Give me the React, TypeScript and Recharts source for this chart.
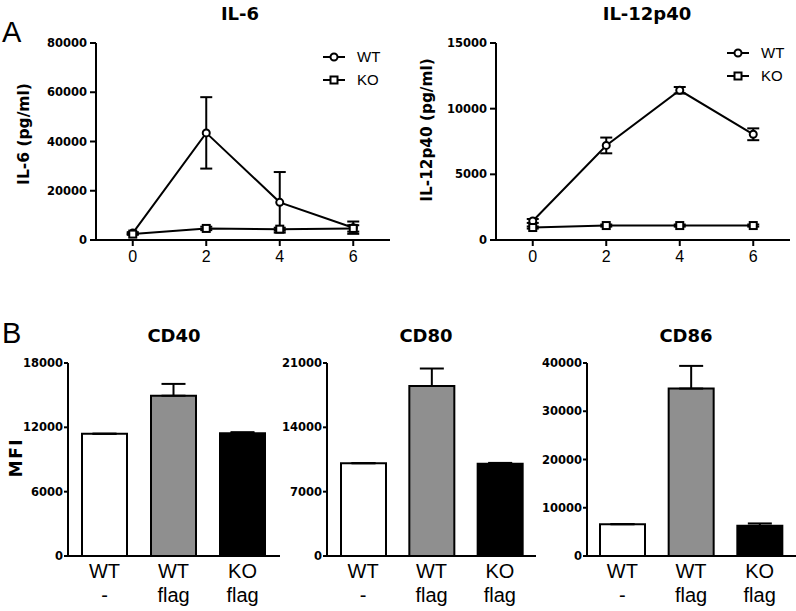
import React from "react";
import { Bar, BarChart, Cell, ErrorBar, Legend, Line, LineChart, XAxis, YAxis } from "recharts";

const BOLD = '"DejaVu Sans", Verdana, sans-serif';
const PLAIN = '"Liberation Sans", Arial, Helvetica, sans-serif';

// Panel A — cytokine secretion over time (h)
const hours = [0, 2, 4, 6];
const il6Wt = [2800, 43500, 15300, 5000];
const il6WtSd = [400, 14500, 12300, 2500];
const il6Ko = [2400, 4700, 4400, 4700];
const il6KoSd = [300, 700, 600, 1300];
const il6Ticks = [0, 20000, 40000, 60000, 80000];

const il12Wt = [1450, 7200, 11400, 8050];
const il12WtSd = [150, 600, 250, 450];
const il12Ko = [950, 1100, 1100, 1100];
const il12KoSd = [80, 80, 80, 80];
const il12Ticks = [0, 5000, 10000, 15000];

const hourTicks = [0, 2, 4, 6];
const seriesOrder = ["wt", "ko"];

// Panel B — surface markers (MFI), upper SD only
const genotypes = ["WT", "WT", "KO"];
const treatments = ["-", "flag", "flag"];
const barFills = ["#ffffff", "#8f8f8f", "#000000"];

const cd40Mfi = [11400, 14950, 11450];
const cd40Sd = [0, 1100, 100];
const cd40Ticks = [0, 6000, 12000, 18000];

const cd80Mfi = [10100, 18500, 10050];
const cd80Sd = [0, 1900, 80];
const cd80Ticks = [0, 7000, 14000, 21000];

const cd86Mfi = [6600, 34700, 6250];
const cd86Sd = [0, 4700, 500];
const cd86Ticks = [0, 10000, 20000, 30000, 40000];

const timeRows = (wt: number[], wtSd: number[], ko: number[], koSd: number[]) =>
  hours.map((h, i) => ({ h, wt: wt[i], wtSd: wtSd[i], ko: ko[i], koSd: koSd[i] }));

const barRows = (mfi: number[], sd: number[]) =>
  genotypes.map((g, i) => ({ label: `${g}|${treatments[i]}`, mfi: mfi[i], sd: [0, sd[i]] }));

const axisStroke = { stroke: "#000", strokeWidth: 2 };
const boldTick = { fill: "#000", fontSize: 11.5, fontWeight: "bold", fontFamily: BOLD };

function SquareDot(props: any) {
  const { cx, cy, index } = props;
  if (cx == null || cy == null) return null;
  return (
    <rect key={`sq-${index}`} x={cx - 3.5} y={cy - 3.5} width={7} height={7} fill="#fff" stroke="#000" strokeWidth={2} />
  );
}

// GraphPad-style key: short line with the marker, label to the right; WT always first.
function SeriesKey({ payload }: any) {
  const items = [...(payload || [])].sort(
    (a: any, b: any) => seriesOrder.indexOf(a.dataKey) - seriesOrder.indexOf(b.dataKey)
  );
  return (
    <div style={{ fontFamily: PLAIN, fontSize: 15, color: "#000", lineHeight: "23px" }}>
      {items.map((e: any) => (
        <div key={e.dataKey} style={{ display: "flex", alignItems: "center", height: 23 }}>
          <svg width={24} height={14} style={{ flex: "none" }}>
            <line x1={1} x2={23} y1={7} y2={7} stroke="#000" strokeWidth={2} />
            {e.dataKey === "ko" ? (
              <rect x={8.5} y={3.5} width={7} height={7} fill="#fff" stroke="#000" strokeWidth={2} />
            ) : (
              <circle cx={12} cy={7} r={3.5} fill="#fff" stroke="#000" strokeWidth={2} />
            )}
          </svg>
          <span style={{ marginLeft: 11 }}>{e.value}</span>
        </div>
      ))}
    </div>
  );
}

function TwoLineTick({ x, y, payload }: any) {
  const [top, bottom] = String(payload.value).split("|");
  return (
    <g>
      <text x={x} y={y + 22} textAnchor="middle" fontFamily={PLAIN} fontSize={20} fill="#000">
        {top}
      </text>
      <text x={x} y={y + 46} textAnchor="middle" fontFamily={PLAIN} fontSize={20} fill="#000">
        {bottom}
      </text>
    </g>
  );
}

function TimeCourse({
  data,
  ticks,
  left,
  width,
  legendLeft,
  legendTop,
}: {
  data: ReturnType<typeof timeRows>;
  ticks: number[];
  left: number;
  width: number;
  legendLeft: number;
  legendTop: number;
}) {
  return (
    <div style={{ position: "absolute", left, top: 0 }}>
      <LineChart width={width} height={290} data={data} margin={{ top: 43, right: width - 390, bottom: 10, left: 16 }}>
        <XAxis
          dataKey="h"
          type="number"
          domain={[-1, 7]}
          ticks={hourTicks}
          height={40}
          axisLine={axisStroke}
          tickLine={axisStroke}
          tickSize={6}
          tickMargin={5}
          tick={{ fill: "#000", fontSize: 16, fontFamily: PLAIN }}
        />
        <YAxis
          domain={[0, ticks[ticks.length - 1]]}
          ticks={ticks}
          width={80}
          axisLine={axisStroke}
          tickLine={axisStroke}
          tickSize={6}
          tickMargin={3}
          tick={boldTick}
        />
        <Legend
          layout="vertical"
          align="center"
          verticalAlign="middle"
          content={<SeriesKey />}
          wrapperStyle={{ left: legendLeft, top: legendTop, width: 70, height: 46, margin: 0, padding: 0 }}
        />
        <Line
          dataKey="wt"
          name="WT"
          type="linear"
          stroke="#000"
          strokeWidth={2}
          dot={{ r: 3.5, fill: "#fff", stroke: "#000", strokeWidth: 2 }}
          isAnimationActive={false}
        >
          <ErrorBar dataKey="wtSd" direction="y" width={6} stroke="#000" strokeWidth={2} />
        </Line>
        <Line
          dataKey="ko"
          name="KO"
          type="linear"
          stroke="#000"
          strokeWidth={2}
          dot={SquareDot}
          isAnimationActive={false}
        >
          <ErrorBar dataKey="koSd" direction="y" width={6} stroke="#000" strokeWidth={2} />
        </Line>
      </LineChart>
    </div>
  );
}

function MarkerBars({
  data,
  ticks,
  left,
  width,
  yWidth,
  marginLeft,
  marginRight,
  padding,
}: {
  data: ReturnType<typeof barRows>;
  ticks: number[];
  left: number;
  width: number;
  yWidth: number;
  marginLeft: number;
  marginRight: number;
  padding: { left: number; right: number };
}) {
  return (
    <div style={{ position: "absolute", left, top: 290 }}>
      <BarChart width={width} height={321} data={data} margin={{ top: 73, right: marginRight, bottom: 5, left: marginLeft }}>
        <XAxis
          dataKey="label"
          height={50}
          padding={padding}
          axisLine={axisStroke}
          tickLine={false}
          tickSize={0}
          tickMargin={0}
          interval={0}
          tick={<TwoLineTick />}
        />
        <YAxis
          domain={[0, ticks[ticks.length - 1]]}
          ticks={ticks}
          width={yWidth}
          axisLine={axisStroke}
          tickLine={axisStroke}
          tickSize={4}
          tickMargin={1}
          tick={boldTick}
        />
        <Bar dataKey="mfi" barSize={45} stroke="#000" strokeWidth={2} isAnimationActive={false}>
          {data.map((_, i) => (
            <Cell key={i} fill={barFills[i]} />
          ))}
          <ErrorBar dataKey="sd" direction="y" width={12} stroke="#000" strokeWidth={2} />
        </Bar>
      </BarChart>
    </div>
  );
}

export default function App() {
  const titleStyle = { fontFamily: BOLD, fontWeight: "bold" as const, fill: "#000" };
  return (
    <div style={{ position: "absolute", left: 0, top: 0, width: 796, height: 611, background: "#fff", overflow: "hidden" }}>
      <TimeCourse data={timeRows(il6Wt, il6WtSd, il6Ko, il6KoSd)} ticks={il6Ticks} left={0} width={400} legendLeft={322} legendTop={45} />
      <TimeCourse data={timeRows(il12Wt, il12WtSd, il12Ko, il12KoSd)} ticks={il12Ticks} left={400} width={396} legendLeft={326} legendTop={41} />
      <MarkerBars data={barRows(cd40Mfi, cd40Sd)} ticks={cd40Ticks} left={0} width={290} yWidth={60} marginLeft={8} marginRight={10} padding={{ left: 2, right: 3 }} />
      <MarkerBars data={barRows(cd80Mfi, cd80Sd)} ticks={cd80Ticks} left={270} width={270} yWidth={55} marginLeft={2} marginRight={4} padding={{ left: 2, right: 2 }} />
      <MarkerBars data={barRows(cd86Mfi, cd86Sd)} ticks={cd86Ticks} left={530} width={266} yWidth={55} marginLeft={2} marginRight={0} padding={{ left: 1, right: 2 }} />
      <svg width={796} height={611} style={{ position: "absolute", left: 0, top: 0, pointerEvents: "none" }}>
        <text x={2} y={42} fontFamily={PLAIN} fontSize={29} fill="#000">A</text>
        <text x={2} y={343} fontFamily={PLAIN} fontSize={29} fill="#000">B</text>
        <text x={240} y={20} textAnchor="middle" fontSize={18} {...titleStyle}>IL-6</text>
        <text x={647} y={20} textAnchor="middle" fontSize={18} {...titleStyle}>IL-12p40</text>
        <text x={174} y={341.5} textAnchor="middle" fontSize={18} {...titleStyle}>CD40</text>
        <text x={426} y={342} textAnchor="middle" fontSize={18} {...titleStyle}>CD80</text>
        <text x={686} y={342} textAnchor="middle" fontSize={18} {...titleStyle}>CD86</text>
        <text x={23.5} y={134} transform="rotate(-90 23.5 134)" textAnchor="middle" dominantBaseline="central" fontSize={15.5} {...titleStyle}>
          IL-6 (pg/ml)
        </text>
        <text x={427} y={130} transform="rotate(-90 427 130)" textAnchor="middle" dominantBaseline="central" fontSize={15.3} {...titleStyle}>
          IL-12p40 (pg/ml)
        </text>
        <text x={15.5} y={457.5} transform="rotate(-90 15.5 457.5)" textAnchor="middle" dominantBaseline="central" fontSize={17} letterSpacing={1.5} {...titleStyle}>
          MFI
        </text>
      </svg>
    </div>
  );
}
